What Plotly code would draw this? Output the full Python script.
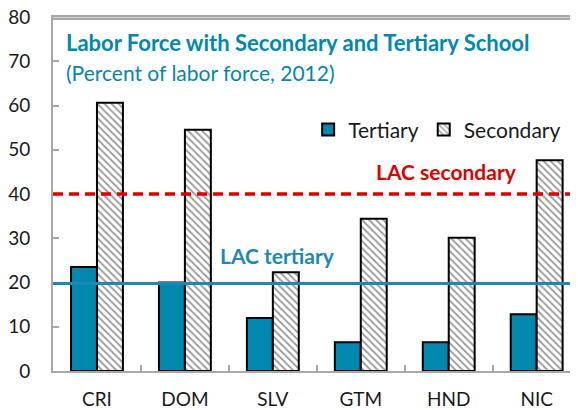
import plotly.graph_objects as go

categories = ["CRI", "DOM", "SLV", "GTM", "HND", "NIC"]
tertiary = [23.5, 20.0, 12.0, 6.5, 6.5, 12.8]
secondary = [60.6, 54.5, 22.3, 34.4, 30.1, 47.6]
lac_secondary = 40.0
lac_tertiary = 19.8
y_ticks = [0, 10, 20, 30, 40, 50, 60, 70, 80]

TEAL = "#0088AE"
RED = "#E00000"
FONT = "Lato"
AXIS_GRAY = "#A8A8A8"

fig = go.Figure()
fig.add_trace(go.Bar(
    x=categories, y=tertiary, name="Tertiary",
    marker=dict(color=TEAL, line=dict(color="black", width=2)),
))
fig.add_trace(go.Bar(
    x=categories, y=secondary, name="Secondary",
    marker=dict(color="white", line=dict(color="black", width=2),
                pattern=dict(shape="\\", fgcolor="#333333", bgcolor="white",
                             size=5, solidity=0.35)),
))

fig.add_shape(type="line", xref="paper", x0=0, x1=1, yref="y",
              y0=lac_secondary, y1=lac_secondary,
              line=dict(color=RED, width=3.5, dash="10px,6px"))
fig.add_shape(type="line", xref="paper", x0=0, x1=1, yref="y",
              y0=lac_tertiary, y1=lac_tertiary,
              line=dict(color="#1A8AB5", width=3))
# top frame line
fig.add_shape(type="line", xref="paper", x0=0, x1=1, yref="y", y0=79.6, y1=79.6,
              layer="above", line=dict(color=AXIS_GRAY, width=2.5))

fig.add_annotation(text="<b>Labor Force with Secondary and Tertiary School</b>",
                   xref="paper", yref="paper", x=0.020, y=0.929,
                   xanchor="left", yanchor="middle", showarrow=False,
                   font=dict(family=FONT, size=22, color=TEAL))
fig.add_annotation(text="(Percent of labor force, 2012)",
                   xref="paper", yref="paper", x=0.020, y=0.842,
                   xanchor="left", yanchor="middle", showarrow=False,
                   font=dict(family=FONT, size=21, color=TEAL))
fig.add_annotation(text="<b>LAC secondary</b>",
                   xref="paper", yref="y", x=0.75, y=lac_secondary + 5,
                   xanchor="center", yanchor="middle", showarrow=False,
                   font=dict(family=FONT, size=21, color=RED))
fig.add_annotation(text="<b>LAC tertiary</b>",
                   xref="paper", yref="y", x=0.427, y=lac_tertiary + 6.4,
                   xanchor="center", yanchor="middle", showarrow=False,
                   font=dict(family=FONT, size=21, color="#1A8AB5"))

fig.update_layout(
    width=570, height=402,
    margin=dict(l=45, r=0, t=9, b=39, autoexpand=False),
    paper_bgcolor="white", plot_bgcolor="white",
    barmode="group", bargap=0.41, bargroupgap=0,
    font=dict(family=FONT, size=19, color="#1a1a1a"),
    showlegend=True,
    legend=dict(orientation="h", x=0.486, y=0.681, xanchor="left", yanchor="middle",
                font=dict(family=FONT, size=21, color="#1a1a1a"),
                bgcolor="rgba(0,0,0,0)", itemwidth=30, traceorder="normal"),
)
fig.update_xaxes(
    type="category", range=[-0.5, 5.47], automargin=False,
    showline=True, linecolor=AXIS_GRAY, linewidth=2, mirror=True,
    ticks="inside", tickson="boundaries", ticklen=6, tickcolor=AXIS_GRAY, tickwidth=1.5,
    showgrid=False, ticklabelstandoff=10, ticklabeloverflow="allow",
    tickfont=dict(family=FONT, size=19, color="#1a1a1a"),
)
fig.update_yaxes(
    range=[0, 80], tickvals=y_ticks, automargin=False,
    showline=True, linecolor=AXIS_GRAY, linewidth=2,
    ticks="inside", ticklen=6, tickcolor=AXIS_GRAY, tickwidth=1.5,
    showgrid=False, zeroline=False, ticklabelstandoff=17, ticklabeloverflow="allow",
    tickfont=dict(family=FONT, size=19, color="#1a1a1a"),
)

fig.write_html("out.html")
